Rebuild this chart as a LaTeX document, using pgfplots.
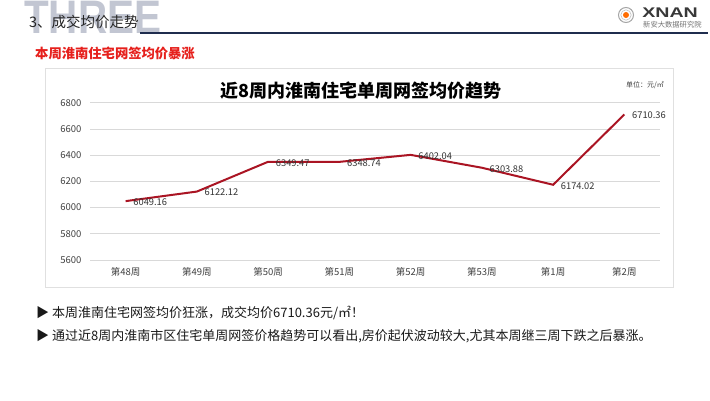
\documentclass[border=0pt]{standalone}
\usepackage{pgfplots}
\pgfplotsset{compat=1.18}
\usepackage{fontspec}
\setmainfont{Noto Sans CJK SC}
\newfontfamily\latinsans{Liberation Sans}
\definecolor{linered}{RGB}{170,20,35}
\definecolor{navy}{RGB}{31,45,78}
\definecolor{subred}{RGB}{230,32,28}
\definecolor{wm}{RGB}{194,198,210}
\begin{document}
\begin{tikzpicture}[x=1pt,y=-1pt]
\path[use as bounding box] (0,0) rectangle (710,400);
\fill[white] (0,0) rectangle (710,400);
% watermark
\node[anchor=base west, inner sep=0, text=wm, xscale=0.86, font=\latinsans\bfseries\fontsize{47}{47}\selectfont] at (24,33) {THREE};
% header
\node[anchor=west, inner sep=0, text=black!85, font=\fontsize{14.5}{15}\selectfont] at (29,22) {3、成交均价走势};
\draw[navy, line width=2pt] (140,33) -- (708,33);
% logo
\draw[gray!70, line width=1pt] (626,15) circle (7.5);
\draw[gray!50, line width=0.6pt] (626,15) circle (5.2);
\fill[orange!85!red] (626,15) circle (3);
\node[anchor=west, inner sep=0, text=black!78, xscale=1.4, font=\latinsans\bfseries\fontsize{14}{14}\selectfont] at (642,13) {XNAN};
\node[anchor=west, inner sep=0, text=black!55, font=\fontsize{7.3}{7.5}\selectfont] at (643,24.5) {新安大数据研究院};
% subtitle
\node[anchor=west, inner sep=0, text=subred, font=\bfseries\fontsize{13.3}{14}\selectfont] at (35,53) {本周淮南住宅网签均价暴涨};
% chart frame
\draw[black!12, line width=0.8pt] (45,68) rectangle (673,287);
\node[anchor=center, inner sep=0, text=black, font=\bfseries\fontsize{18}{18}\selectfont] at (361,91) {近8周内淮南住宅单周网签均价趋势};
\node[anchor=west, inner sep=0, text=black!75, font=\fontsize{7}{7}\selectfont] at (626,85) {单位：元/㎡};
\begin{axis}[
  at={(90pt,-260pt)}, anchor=south west,
  scale only axis, width=570pt, height=157.3pt,
  xmin=-0.5, xmax=7.5, ymin=5600, ymax=6800,
  ytick={5600,5800,6000,6200,6400,6600,6800},
  xtick={0,1,2,3,4,5,6,7},
  xticklabels={第48周,第49周,第50周,第51周,第52周,第53周,第1周,第2周},
  axis line style={draw=none},
  major tick length=0pt,
  ymajorgrids,
  grid style={color=black!15, line width=0.8pt},
  /pgf/number format/assume math mode=true,
  /pgf/number format/1000 sep={},
  yticklabel style={font=\fontsize{9.5}{10}\selectfont, text=black!75, xshift=-5pt},
  xticklabel style={font=\fontsize{9.5}{10}\selectfont, text=black!75, yshift=-4pt},
  clip=false,
  nodes near coords,
  point meta=explicit symbolic,
  every node near coord/.append style={anchor=west, xshift=3.5pt, yshift=-1pt, font=\fontsize{9.3}{9.5}\selectfont, text=black!80},
]
\addplot[linered, line width=2pt, no marks] coordinates {
  (0,6049.16) [6049.16]
  (1,6122.12) [6122.12]
  (2,6349.47) [6349.47]
  (3,6348.74) [6348.74]
  (4,6402.04) [6402.04]
  (5,6303.88) [6303.88]
  (6,6174.02) [6174.02]
  (7,6710.36) [6710.36]
};
\end{axis}
% bullets
\node[anchor=west, inner sep=0, text=black!90, font=\fontsize{13}{13}\selectfont] at (36,313) {▶ 本周淮南住宅网签均价狂涨，成交均价6710.36元/㎡！};
\node[anchor=west, inner sep=0, text=black!90, font=\fontsize{13}{13}\selectfont] at (36,336) {▶ 通过近8周内淮南市区住宅单周网签价格趋势可以看出,房价起伏波动较大,尤其本周继三周下跌之后暴涨。};
\end{tikzpicture}
\end{document}
